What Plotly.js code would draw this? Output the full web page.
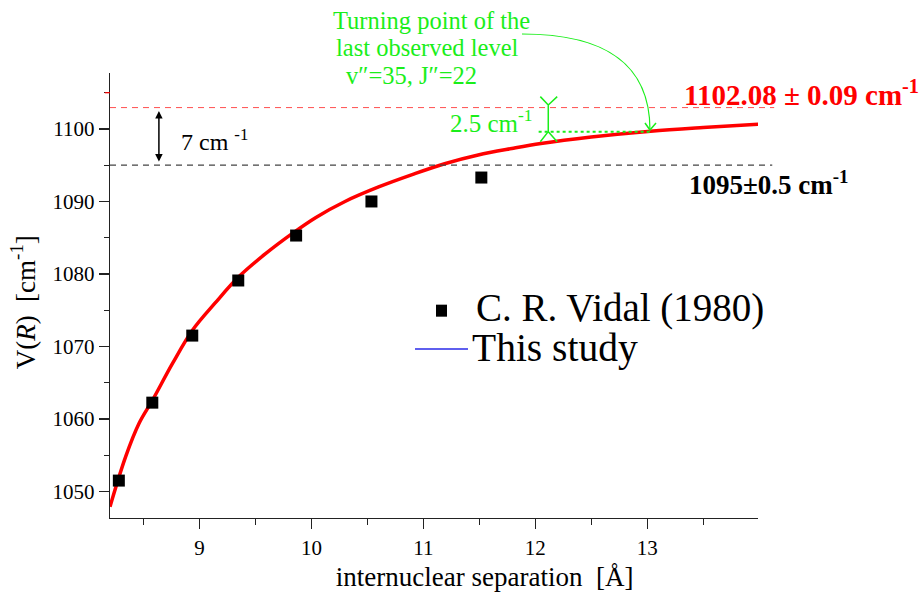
<!DOCTYPE html>
<html>
<head>
<meta charset="utf-8">
<script src="https://cdn.plot.ly/plotly-3.0.1.min.js"></script>
<style>html,body{margin:0;padding:0;background:#fff;}#chart{width:920px;height:598px;}</style>
</head>
<body>
<div id="chart"></div>
<script>
// ---- data ----
const vidalX = [8.279, 8.578, 8.935, 9.346, 9.863, 10.536, 11.518];
const vidalY = [1051.5, 1062.25, 1071.5, 1079.1, 1085.3, 1090.0, 1093.3];

const studyX = [8.2, 8.34, 8.46, 8.58, 8.76, 8.94, 9.14, 9.35, 9.59, 9.83, 10.04, 10.3, 10.6, 10.9, 11.19, 11.49, 11.79, 12.05, 12.5, 13.03, 13.5, 14.0];
const studyY = [1047.9, 1054.8, 1059.4, 1062.6, 1067.7, 1072.3, 1076.0, 1079.6, 1082.8, 1085.6, 1087.8, 1090.0, 1092.0, 1093.7, 1095.2, 1096.4, 1097.3, 1098.0, 1098.9, 1099.7, 1100.2, 1100.65];

const seriesNames = ['C. R. Vidal (1980)', 'This study'];
const limitLevels = [1102.95, 1095];            // red (this study) and black (earlier) asymptote lines
const limitLabels = ['1102.08 ± 0.09 cm<sup>-1</sup>', '1095±0.5 cm<sup>-1</sup>'];
const turningX = [12.03, 13.03];                 // extent of dotted green level line
const turningLevel = 1099.63;
const gapTop = 1103.31;
const arrowX = 8.637;                            // 7 cm-1 double arrow
const xTickVals = [9, 10, 11, 12, 13];
const yTickVals = [1050, 1060, 1070, 1080, 1090, 1100];

const SERIF = 'Liberation Serif, Times New Roman, serif';
const GREEN = '#1aee1a';

const traces = [
  {
    x: studyX, y: studyY, type: 'scatter', mode: 'lines',
    line: {color: '#ff0000', width: 3.5, shape: 'spline', smoothing: 1},
    name: seriesNames[1], showlegend: false, hoverinfo: 'skip'
  },
  {
    x: vidalX, y: vidalY, type: 'scatter', mode: 'markers',
    marker: {symbol: 'square', size: 12, color: '#000000'},
    name: seriesNames[0], showlegend: false, cliponaxis: false
  }
];

const shapes = [
  {type: 'line', xref: 'paper', yref: 'y', x0: 0, x1: 1.025, y0: limitLevels[0], y1: limitLevels[0],
   line: {color: '#ff5050', width: 1, dash: '6px,5px'}},
  {type: 'line', xref: 'paper', yref: 'y', x0: 0, x1: 1.022, y0: limitLevels[1], y1: limitLevels[1],
   line: {color: '#444444', width: 1.2, dash: '6px,5px'}},
  {type: 'line', xref: 'paper', yref: 'y', x0: -0.008, x1: 0, y0: 1105, y1: 1105,
   line: {color: '#ff0000', width: 1.2}},
  // green 2.5 cm-1 bracket
  {type: 'path', xref: 'x', yref: 'y',
   path: 'M12.045,1104.46 L12.116,' + gapTop + ' L12.196,1104.46 M12.116,' + gapTop + ' L12.116,' + turningLevel +
         ' M12.045,1098.25 L12.116,' + turningLevel + ' L12.196,1098.25',
   line: {color: GREEN, width: 1.5}},
  {type: 'line', xref: 'x', yref: 'y', x0: turningX[0], x1: turningX[1], y0: turningLevel, y1: turningLevel,
   line: {color: GREEN, width: 2, dash: 'dot'}},
  // green curved arrow from the label to the turning point
  {type: 'path', xref: 'paper', yref: 'paper',
   path: 'M0.6358,1.0876 C0.7562,1.0876 0.8333,1.0292 0.8333,0.8720',
   line: {color: GREEN, width: 1.2}},
  {type: 'path', xref: 'paper', yref: 'paper',
   path: 'M0.8256,0.8876 L0.8333,0.8720 L0.8426,0.8876',
   line: {color: GREEN, width: 1.5}},
  // manual legend symbols
  {type: 'rect', xref: 'paper', yref: 'paper', x0: 0.5031, x1: 0.5201, y0: 0.4524, y1: 0.4794,
   fillcolor: '#000000', line: {width: 0}},
  {type: 'line', xref: 'paper', yref: 'paper', x0: 0.4707, x1: 0.5525, y0: 0.3798, y1: 0.3798,
   line: {color: '#2a2ae8', width: 1.3}}
];

const annotations = [
  {xref: 'paper', yref: 'paper', x: 0.882, y: 0.955, xanchor: 'left', yanchor: 'middle', showarrow: false,
   text: '<b>' + limitLabels[0] + '</b>', font: {family: SERIF, size: 29, color: '#ff0000'}},
  {xref: 'paper', yref: 'paper', x: 0.890, y: 0.7528, xanchor: 'left', yanchor: 'middle', showarrow: false,
   text: '<b>' + limitLabels[1] + '</b>', font: {family: SERIF, size: 27, color: '#000000'}},
  {xref: 'paper', yref: 'paper', x: 0.4961, y: 1.1169, xanchor: 'center', yanchor: 'middle', showarrow: false,
   text: 'Turning point of the', font: {family: SERIF, size: 24.5, color: GREEN}},
  {xref: 'paper', yref: 'paper', x: 0.4892, y: 1.0562, xanchor: 'center', yanchor: 'middle', showarrow: false,
   text: 'last observed level', font: {family: SERIF, size: 24.5, color: GREEN}},
  {xref: 'paper', yref: 'paper', x: 0.4660, y: 0.9955, xanchor: 'center', yanchor: 'middle', showarrow: false,
   text: 'v″=35, J″=22', font: {family: SERIF, size: 24.5, color: GREEN}},
  {xref: 'x', yref: 'y', x: 11.22, y: 1101.1, xanchor: 'left', yanchor: 'middle', showarrow: false,
   text: '2.5 cm<sup>-1</sup>', font: {family: SERIF, size: 25, color: GREEN}},
  {xref: 'x', yref: 'y', x: 8.82, y: 1098.5, xanchor: 'left', yanchor: 'middle', showarrow: false,
   text: '7 cm <sup>-1</sup>', font: {family: SERIF, size: 24, color: '#000000'}},
  {xref: 'x', yref: 'y', x: arrowX, y: 1095.5, axref: 'x', ayref: 'y', ax: arrowX, ay: 1102.7,
   text: '', showarrow: true, arrowhead: 2, arrowside: 'end+start', arrowsize: 1, arrowwidth: 1.5,
   arrowcolor: '#000000', standoff: 0, startstandoff: 0},
  // manual legend labels
  {xref: 'paper', yref: 'paper', x: 0.5617, y: 0.472, xanchor: 'left', yanchor: 'middle', showarrow: false,
   text: seriesNames[0], font: {family: SERIF, size: 39, color: '#000000'}},
  {xref: 'paper', yref: 'paper', x: 0.5555, y: 0.381, xanchor: 'left', yanchor: 'middle', showarrow: false,
   text: seriesNames[1], font: {family: SERIF, size: 39.5, color: '#000000'}}
];

const layout = {
  width: 920, height: 598,
  paper_bgcolor: '#ffffff', plot_bgcolor: '#ffffff',
  margin: {l: 110, r: 162, t: 73, b: 80},
  showlegend: false,
  font: {family: SERIF, color: '#000000'},
  xaxis: {
    range: [8.2, 13.99], showgrid: false, zeroline: false,
    showline: true, linecolor: '#222222', linewidth: 1.3,
    ticks: 'outside', ticklen: 10, tickwidth: 1.3, tickcolor: '#222222',
    tickvals: xTickVals, ticktext: xTickVals.map(String),
    tickfont: {family: SERIF, size: 21, color: '#000000'},
    minor: {ticks: 'outside', ticklen: 6, tickwidth: 1.2, tickcolor: '#222222', dtick: 0.5, tick0: 8, showgrid: false},
    title: {text: '&nbsp;'.repeat(15) + 'internuclear separation&nbsp; [Å]', font: {family: SERIF, size: 27, color: '#000000'}, standoff: 8}
  },
  yaxis: {
    range: [1046.34, 1107.72], showgrid: false, zeroline: false,
    showline: true, linecolor: '#222222', linewidth: 1.3,
    ticks: 'outside', ticklen: 10, tickwidth: 1.3, tickcolor: '#222222',
    tickvals: yTickVals, ticktext: yTickVals.map(String),
    tickfont: {family: SERIF, size: 21, color: '#000000'},
    minor: {ticks: 'outside', ticklen: 5, tickwidth: 1.2, tickcolor: '#222222', dtick: 5, tick0: 1045, showgrid: false},
    title: {text: 'V(<i>R</i>)&nbsp; [cm<sup>-1</sup>]&nbsp;&nbsp;', font: {family: SERIF, size: 27, color: '#000000'}, standoff: 9}
  },
  shapes: shapes,
  annotations: annotations
};

Plotly.newPlot('chart', traces, layout, {staticPlot: true, displayModeBar: false});
</script>
</body>
</html>
